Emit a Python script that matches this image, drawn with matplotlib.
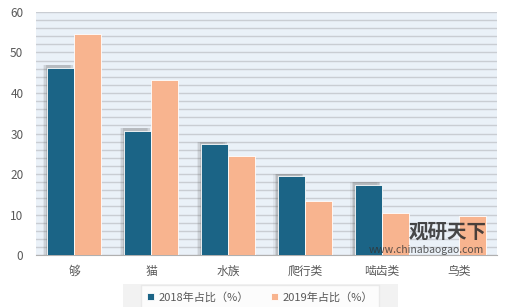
import numpy as np
import matplotlib.pyplot as plt
from matplotlib.patches import Rectangle

plt.rcParams['font.family'] = ['Noto Sans CJK SC', 'DejaVu Sans']

categories = ['够', '猫', '水族', '爬行类', '啮齿类', '鸟类']
share_2018 = [46.2, 30.7, 27.3, 19.5, 17.4, 0]
share_2019 = [54.5, 43.2, 24.5, 13.3, 10.5, 9.7]
labels = ['2018年占比（%）', '2019年占比（%）']

c18 = '#1b6486'
c19 = '#f8b48f'
txt = '#595959'

fig = plt.figure(figsize=(5.2, 3.07), dpi=100)
ax = fig.add_axes([0.069, 0.169, 0.887, 0.792])
ax.set_facecolor('#eaf1f8')

x = np.arange(len(categories))
w = 0.35

# soft shadow behind the 2018 bars
s18 = np.array(share_2018)
for dx, a in [(-0.06, 0.08), (-0.04, 0.12), (-0.02, 0.18)]:
    ax.bar(x - w / 2 + dx, s18 + np.where(s18 > 0, 0.6, 0),
           w, color='#555555', alpha=a, zorder=2, linewidth=0)

b1 = ax.bar(x - w / 2, share_2018, w, color=c18, zorder=3, edgecolor='white', linewidth=0.6, label=labels[0])
b2 = ax.bar(x + w / 2, share_2019, w, color=c19, zorder=3, edgecolor='white', linewidth=0.6, label=labels[1])

ax.set_xlim(-0.5, len(categories) - 0.5)
ax.set_ylim(0, 60)
ax.set_yticks(np.arange(0, 61, 10))
ax.set_yticks(np.arange(0, 61, 2), minor=True)
ax.grid(axis='y', which='both', color='#c9cdd3', linewidth=1.0, zorder=1)
ax.set_axisbelow(True)

ax.set_xticks(x)
ax.set_xticklabels(categories)
ax.tick_params(axis='both', which='both', length=0, colors=txt, labelsize=8.5)
ax.tick_params(axis='x', pad=7)
ax.tick_params(axis='y', pad=9)
for s in ['top', 'right', 'left']:
    ax.spines[s].set_visible(False)
ax.spines['bottom'].set_color('#b0b0b0')

# legend box at the bottom
fig.patches.append(Rectangle((0.236, -0.02), 0.53, 0.095, transform=fig.transFigure,
                             facecolor='#f2f2f2', edgecolor='none', zorder=0))
leg = fig.legend(handles=[b1, b2], labels=labels, loc='lower center', bbox_to_anchor=(0.5, -0.025),
                 ncol=2, frameon=True, fontsize=8, handlelength=0.6, handleheight=0.6,
                 columnspacing=2.0, handletextpad=0.4, borderpad=0.6)
leg.get_frame().set_facecolor('white')
leg.get_frame().set_edgecolor('#e6e6e6')
leg.get_frame().set_boxstyle('square', pad=0.0)
for t in leg.get_texts():
    t.set_color(txt)

# watermark
fig.text(0.86, 0.225, '观研天下', fontsize=14, color='#2b2b2b', fontweight='bold', ha='center', alpha=0.85)
fig.text(0.82, 0.175, 'www.chinabaogao.com', fontsize=7.5, color='#333333', ha='center', alpha=0.8)

fig.savefig('out.png', dpi=100)
